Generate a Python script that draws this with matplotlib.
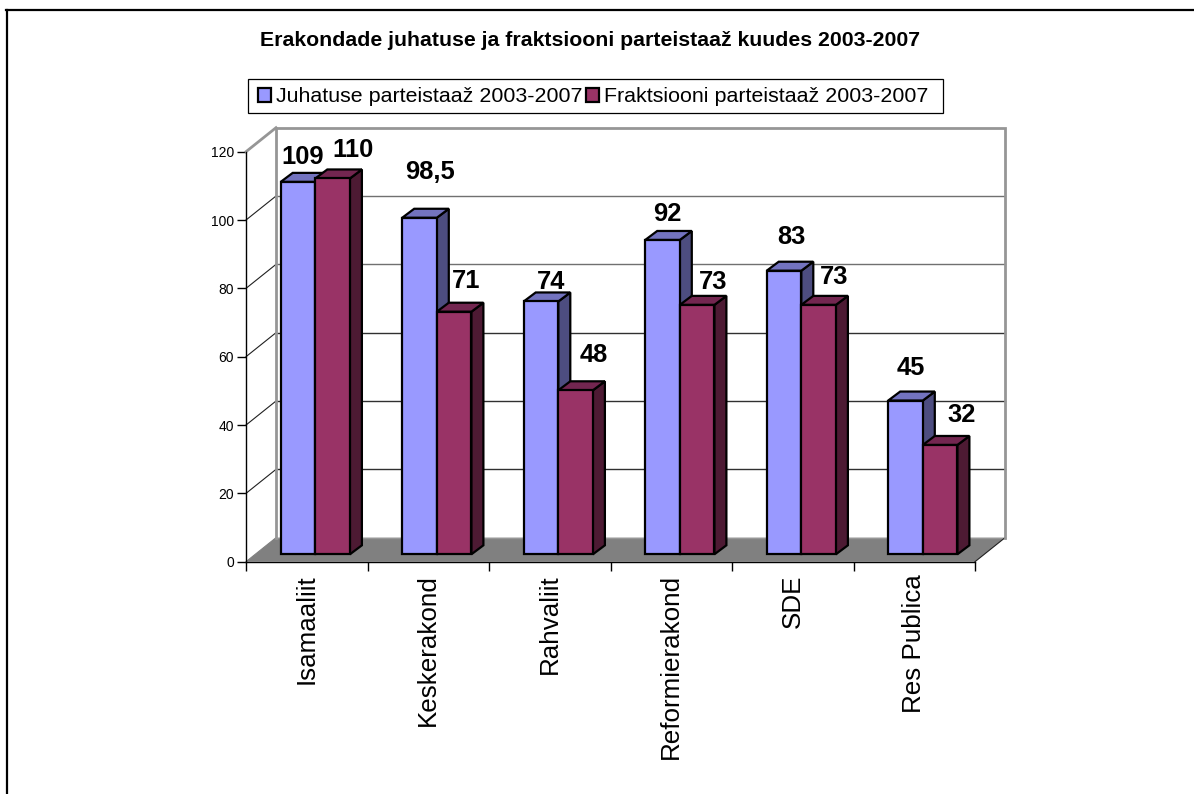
import matplotlib
matplotlib.use("Agg")
import matplotlib.pyplot as plt
from matplotlib.patches import Patch, Polygon, Rectangle
from matplotlib.lines import Line2D

plt.rcParams['font.family'] = ['Liberation Sans', 'DejaVu Sans']

title = "Erakondade juhatuse ja fraktsiooni parteistaaž kuudes 2003-2007"
categories = ["Isamaaliit", "Keskerakond", "Rahvaliit", "Reformierakond", "SDE", "Res Publica"]
juhatus = [109, 98.5, 74, 92, 83, 45]
fraktsioon = [110, 71, 48, 73, 73, 32]
juhatus_labels = ["109", "98,5", "74", "92", "83", "45"]
fraktsioon_labels = ["110", "71", "48", "73", "73", "32"]
y_ticks = [0, 20, 40, 60, 80, 100, 120]
legend_names = ["Juhatuse parteistaaž 2003-2007", "Fraktsiooni parteistaaž 2003-2007"]

# label nudges in pixels, the original labels were dragged around by hand
juhatus_nudge = [(5, 25), (10, 46), (10, 19), (5, 26), (7, 34), (5, 33)]
fraktsioon_nudge = [(20, 28), (12, 31), (18, 35), (16, 23), (16, 28), (22, 30)]

W, H = 1194, 794
# depth of the fake 3d box in data units
wall_dx = 30 / 121.5
wall_dy = 24 / (410 / 120)
# one bar
bar_start = 34.7 / 121.5
bar_w = 34.6 / 121.5
bar_dx = 12 / 121.5
bar_dy = 9 / (410 / 120)
base_y = 7.4 / (410 / 120)

BLUE = ("#9999FF", "#7373BF", "#4D4D80")
RED = ("#993366", "#732650", "#4D1A33")
WALL = "#969696"


def draw_bar(ax, x, value, colors, z):
    y0 = base_y
    y1 = base_y + value
    front = [(x, y0), (x + bar_w, y0), (x + bar_w, y1), (x, y1)]
    top = [(x, y1), (x + bar_w, y1), (x + bar_w + bar_dx, y1 + bar_dy), (x + bar_dx, y1 + bar_dy)]
    side = [(x + bar_w, y0), (x + bar_w + bar_dx, y0 + bar_dy), (x + bar_w + bar_dx, y1 + bar_dy), (x + bar_w, y1)]
    for pts, col in [(side, colors[2]), (top, colors[1]), (front, colors[0])]:
        ax.add_patch(Polygon(pts, closed=True, facecolor=col, edgecolor="black", linewidth=1.6,
                             joinstyle="miter", clip_on=False, zorder=z))


fig = plt.figure(figsize=(W / 100, H / 100), dpi=100)
fig.patch.set_facecolor("white")

# page frame, only left and top are visible
fig.add_artist(Line2D([7 / W, 7 / W], [0, 1 - 10 / H], color="black", linewidth=1.6))
fig.add_artist(Line2D([6 / W, 1], [1 - 10 / H, 1 - 10 / H], color="black", linewidth=1.6))

ax = fig.add_axes([246 / W, 1 - 561.7 / H, 729 / W, 410 / H])
ax.patch.set_visible(False)
ax.set_xlim(0, len(categories))
ax.set_ylim(0, 120)
for s in ["top", "right"]:
    ax.spines[s].set_visible(False)
ax.spines["left"].set_linewidth(1.0)
ax.spines["bottom"].set_linewidth(1.0)
ax.spines["left"].set_zorder(6)
ax.spines["bottom"].set_zorder(6)

ax.set_yticks(y_ticks)
ax.tick_params(axis="y", length=6.5, width=1.0, labelsize=10, pad=2)
ax.set_xticks(range(len(categories) + 1))
ax.set_xticklabels([])
ax.set_xticks([i + 0.5 for i in range(len(categories))], minor=True)
ax.set_xticklabels(categories, minor=True, rotation=90, fontsize=18.7)
ax.tick_params(axis="x", which="major", length=6.5, width=1.0)
ax.tick_params(axis="x", which="minor", length=0, pad=9)

n = len(categories)

# floor and back wall
ax.add_patch(Polygon([(0, 0), (n, 0), (n + wall_dx, wall_dy), (wall_dx, wall_dy)], closed=True,
                     facecolor="#808080", edgecolor="none", clip_on=False, zorder=1))
for v in y_ticks[1:-1]:
    line_col = "#707070" if v >= 80 else "#303030"
    ax.plot([wall_dx, n + wall_dx], [v + wall_dy] * 2, color=line_col, linewidth=1.0, clip_on=False, zorder=2)
    ax.plot([0, wall_dx], [v, v + wall_dy], color="#202020", linewidth=0.8, clip_on=False, zorder=2)
ax.plot([0, wall_dx], [120, 120 + wall_dy], color=WALL, linewidth=2.0, clip_on=False, zorder=3)
ax.plot([wall_dx, wall_dx, n + wall_dx, n + wall_dx], [wall_dy, 120 + wall_dy, 120 + wall_dy, wall_dy],
        color=WALL, linewidth=2.0, clip_on=False, zorder=3, solid_joinstyle="miter")
ax.plot([wall_dx, n + wall_dx], [wall_dy, wall_dy], color=WALL, linewidth=1.0, clip_on=False, zorder=2)
ax.plot([n, n + wall_dx], [0, wall_dy], color="#202020", linewidth=0.8, clip_on=False, zorder=2)
ax.plot([0, wall_dx], [0, wall_dy], color="#808080", linewidth=0.8, clip_on=False, zorder=2)

# bars, left to right so the later ones cover the earlier ones
for i in range(n):
    x = i + bar_start
    draw_bar(ax, x, juhatus[i], BLUE, 4 + i * 0.1)
    draw_bar(ax, x + bar_w, fraktsioon[i], RED, 4.05 + i * 0.1)

for i in range(n):
    x = i + bar_start
    ax.annotate(juhatus_labels[i], (x + bar_w / 2, base_y + juhatus[i]), xytext=juhatus_nudge[i],
                textcoords="offset pixels", ha="center", va="center", fontsize=18.4, fontweight="bold",
                zorder=8, annotation_clip=False)
    ax.annotate(fraktsioon_labels[i], (x + 1.5 * bar_w, base_y + fraktsioon[i]), xytext=fraktsioon_nudge[i],
                textcoords="offset pixels", ha="center", va="center", fontsize=18.4, fontweight="bold",
                zorder=8, annotation_clip=False)

fig.text(589.5 / W, 1 - 40 / H, title, ha="center", va="center", fontsize=15.3, fontweight="bold")

# legend frame drawn apart, the legend's own pad can't differ in x and y
fig.add_artist(Rectangle((248 / W, 1 - 113 / H), 695 / W, 34 / H, facecolor="white", edgecolor="black",
                         linewidth=0.9, transform=fig.transFigure))
handles = [Patch(facecolor=BLUE[0], edgecolor="black", linewidth=1.6),
           Patch(facecolor=RED[0], edgecolor="black", linewidth=1.6)]
leg = fig.legend(handles, legend_names, loc="center", bbox_to_anchor=(593 / W, 1 - 97 / H), ncol=2,
                 fontsize=15.4, frameon=False,
                 handlelength=0.62, handleheight=0.62, handletextpad=0.22, columnspacing=0.14,
                 borderpad=0.3, borderaxespad=0)

fig.savefig("out.png", dpi=100)
